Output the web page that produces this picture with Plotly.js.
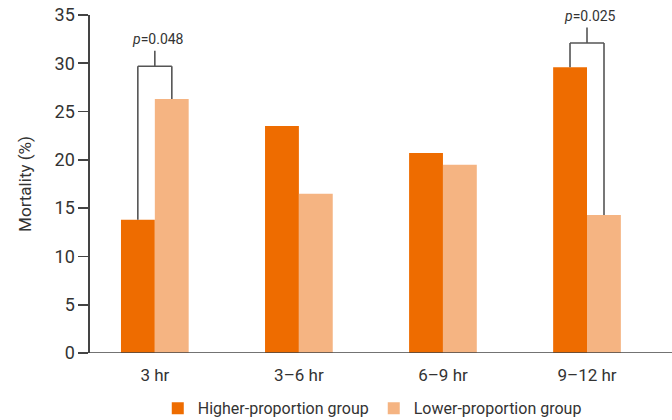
<!DOCTYPE html>
<html>
<head>
<meta charset="utf-8">
<script src="https://cdn.plot.ly/plotly-3.0.1.min.js"></script>
<style>html,body{margin:0;padding:0;background:#fff;}#chart{width:672px;height:420px;}</style>
</head>
<body>
<div id="chart"></div>
<script>
const categories = ['3 hr', '3\u20136 hr', '6\u20139 hr', '9\u201312 hr'];
const higherGroup = [13.8, 23.5, 20.7, 29.6];
const lowerGroup = [26.3, 16.5, 19.5, 14.3];
const seriesNames = ['Higher-proportion group', 'Lower-proportion group'];
const pLabels = ['<i>p</i>=0.048', '<i>p</i>=0.025'];
const pCategoryIndex = [0, 3];
const bracketTop = [29.7, 32.1];

const FONT = 'Roboto, "Liberation Sans", sans-serif';
const off = 0.118;
const shapes = [];
const annotations = [];
const lineStyle = {color: '#555', width: 1.6};
pCategoryIndex.forEach((ci, k) => {
  const xl = ci - off, xr = ci + off;
  const yl = higherGroup[ci], yr = lowerGroup[ci];
  const top = bracketTop[k];
  shapes.push({type: 'line', xref: 'x', yref: 'y', x0: xl, x1: xl, y0: yl, y1: top, line: lineStyle});
  shapes.push({type: 'line', xref: 'x', yref: 'y', x0: xr, x1: xr, y0: yr, y1: top, line: lineStyle});
  shapes.push({type: 'line', xref: 'x', yref: 'y', x0: xl, x1: xr, y0: top, y1: top, line: lineStyle});
  shapes.push({type: 'line', xref: 'x', yref: 'y', x0: ci, x1: ci, y0: top, y1: top + 1.6, line: lineStyle});
  annotations.push({xref: 'x', yref: 'y', x: ci + 0.02, y: top + 1.6, yshift: 2, text: pLabels[k], showarrow: false,
    yanchor: 'bottom', font: {family: FONT, size: 14, color: '#333'}});
});
// x-axis baseline extending to tick area
shapes.push({type: 'line', xref: 'paper', yref: 'y', x0: -0.017, x1: 1, y0: 0, y1: 0, line: {color: '#444', width: 1.6}});

const data = [
  {type: 'bar', x: categories, y: higherGroup, name: seriesNames[0], marker: {color: '#EE6C00'}},
  {type: 'bar', x: categories, y: lowerGroup, name: seriesNames[1], marker: {color: '#F5B482'}}
];

const layout = {
  width: 672, height: 420,
  margin: {l: 90, r: 0, t: 15, b: 67},
  paper_bgcolor: '#fff', plot_bgcolor: '#fff',
  barmode: 'group', bargap: 0.53, bargroupgap: 0,
  font: {family: FONT, color: '#333'},
  xaxis: {range: [-0.45, 3.59], showline: false, ticks: '', showgrid: false, zeroline: false, automargin: false,
    ticklabelstandoff: 10,
    tickfont: {family: FONT, size: 17, color: '#333'}},
  yaxis: {range: [0, 35], dtick: 5, showline: true, linecolor: '#444', linewidth: 1.6, automargin: false,
    ticks: 'outside', ticklen: 10, tickwidth: 1.6, tickcolor: '#444', showgrid: false, zeroline: false,
    tickfont: {family: FONT, size: 18, color: '#333'},
    title: {text: 'Mortality (%)', font: {family: FONT, size: 17, color: '#333'}, standoff: 18}},
  showlegend: true,
  legend: {orientation: 'h', x: 0.485, xanchor: 'center', yref: 'container', y: 0.028, yanchor: 'middle',
    font: {family: FONT, size: 16, color: '#333'}, itemwidth: 30, traceorder: 'normal'},
  shapes: shapes,
  annotations: annotations
};

Plotly.newPlot('chart', data, layout, {displayModeBar: false, staticPlot: true});
</script>
</body>
</html>
